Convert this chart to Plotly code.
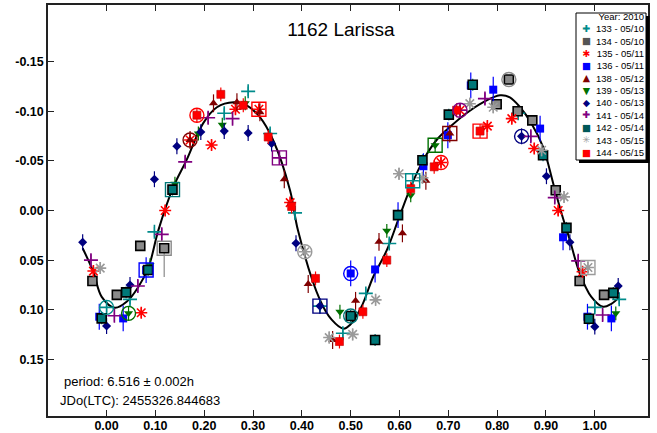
import plotly.graph_objects as go

# ---------------- data ----------------
series_names = ["133 - 05/10", "134 - 05/10", "135 - 05/11", "136 - 05/11", "138 - 05/12",
                "139 - 05/13", "140 - 05/13", "141 - 05/14", "142 - 05/14", "143 - 05/15", "144 - 05/15"]
legend_title = "Year: 2010"

phase_133 = [0.000, 0.048, 0.098, 0.241, 0.290, 0.335, 0.386, 0.437, 0.484, 0.531, 0.579, 0.627, 0.843, 1.000, 1.050]
mag_133 = [0.0976, 0.0895, 0.0215, -0.098, -0.120, -0.0775, 0.0024, 0.0963, 0.1237, 0.0835, 0.0333, -0.030, -0.098, 0.0976, 0.0895]

phase_134 = [-0.029, 0.021, 0.069, 0.118, 0.799, 0.824, 0.842, 0.872, 0.920, 0.969, 1.019]
mag_134 = [0.071, 0.085, 0.0356, 0.038, -0.107, -0.132, -0.100, -0.0908, -0.0204, 0.071, 0.085]
err_134_plus = [0.004, 0.004, 0.004, 0.029, 0.004, 0.004, 0.004, 0.004, 0.004, 0.004, 0.004]

phase_135 = [-0.027, 0.071, 0.120, 0.171, 0.215, 0.264, 0.312, 0.376, 0.685, 0.724, 0.780, 0.830, 0.876, 0.925, 0.975]
mag_135 = [0.061, 0.103, 0.000, -0.071, -0.066, -0.102, -0.102, -0.008, -0.0483, -0.101, -0.085, -0.0925, -0.0624, 0.000, 0.0617]

phase_136 = [-0.015, 0.034, 0.081, 0.500, 0.550, 0.597, 0.649, 0.699, 0.746, 0.792, 0.888, 0.935, 0.985, 1.034]
mag_136 = [0.107, 0.1087, 0.060, 0.0634, 0.0594, 0.0047, -0.0446, -0.0758, -0.126, -0.1217, -0.0825, 0.027, 0.107, 0.1087]

phase_138 = [0.171, 0.219, 0.267, 0.314, 0.364, 0.413, 0.463, 0.510, 0.558, 0.606, 0.654, 0.703]
mag_138 = [-0.071, -0.108, -0.109, -0.099, -0.0315, 0.074, 0.1305, 0.091, 0.0316, 0.023, -0.030, -0.0775]

phase_139 = [0.045, 0.089, 0.140, 0.188, 0.237, 0.284, 0.478, 0.574, 0.623, 0.673, 1.043]
mag_139 = [0.1036, 0.055, -0.027, -0.0775, -0.0865, -0.108, 0.102, 0.0205, -0.0154, -0.0657, 0.1036]

phase_140 = [-0.049, 0.000, 0.048, 0.098, 0.144, 0.193, 0.241, 0.290, 0.338, 0.388, 0.437, 0.850, 0.901, 0.949, 1.000, 1.048]
mag_140 = [0.032, 0.1164, 0.075, -0.0315, -0.0647, -0.079, -0.080, -0.078, -0.0675, 0.033, 0.0963, -0.0747, -0.0345, 0.032, 0.117, 0.076]

phase_141 = [-0.032, 0.016, 0.064, 0.113, 0.161, 0.208, 0.258, 0.354, 0.724, 0.775, 0.869, 0.918, 0.966, 1.016]
mag_141 = [0.050, 0.106, 0.076, 0.024, -0.049, -0.0935, -0.0925, -0.053, -0.101, -0.1127, -0.0747, -0.013, 0.0507, 0.1053]

phase_142 = [-0.010, 0.040, 0.085, 0.135, 0.500, 0.550, 0.597, 0.647, 0.701, 0.750, 0.894, 0.942, 0.988, 1.038]
mag_142 = [0.1087, 0.0825, 0.060, -0.021, 0.1063, 0.1305, 0.0047, -0.0506, -0.0966, -0.1267, -0.0556, 0.0175, 0.109, 0.083]

phase_143 = [-0.013, 0.406, 0.456, 0.504, 0.551, 0.599, 0.647, 0.744, 0.792, 0.891, 0.937, 0.986]
mag_143 = [0.058, 0.0416, 0.128, 0.1248, 0.090, -0.037, -0.033, -0.1076, -0.104, -0.0607, -0.0137, 0.0574]

phase_144 = [0.185, 0.234, 0.280, 0.331, 0.379, 0.428, 0.477, 0.525, 0.574, 0.623, 0.671, 0.717, 0.765]
mag_144 = [-0.096, -0.117, -0.106, -0.074, -0.004, 0.0684, 0.132, 0.102, 0.050, -0.022, -0.044, -0.101, -0.080]

# per-series typical error (mag)
series_err = [0.005, 0.004, 0.005, 0.013, 0.009, 0.007, 0.008, 0.006, 0.006, 0.006, 0.007]

# fitted lightcurve
fit_phase = [-0.049, -0.027, -0.010, 0.017, 0.041, 0.065, 0.086, 0.106, 0.137, 0.164, 0.198, 0.226,
             0.260, 0.287, 0.314, 0.341, 0.376, 0.392, 0.437, 0.461, 0.485, 0.499, 0.522, 0.546,
             0.574, 0.597, 0.625, 0.649, 0.676, 0.703, 0.737, 0.771, 0.806, 0.826, 0.847, 0.870,
             0.894, 0.915, 0.932, 0.949, 0.969, 0.993, 1.017, 1.034, 1.051]
fit_mag = [0.038, 0.062, 0.087, 0.098, 0.092, 0.077, 0.057, 0.020, -0.024, -0.051, -0.088, -0.104,
           -0.109, -0.106, -0.094, -0.071, -0.020, 0.020, 0.090, 0.110, 0.119, 0.115, 0.097, 0.067,
           0.040, 0.010, -0.026, -0.051, -0.071, -0.084, -0.098, -0.109, -0.116, -0.114, -0.104, -0.088,
           -0.064, -0.027, 0.003, 0.030, 0.063, 0.087, 0.097, 0.094, 0.087]

# highlighted (session reference) points
hl_phase = [0.000, 0.045, 0.081, 0.118, 0.135, 0.171, 0.185, 0.312, 0.354, 0.406, 0.437,
            0.500, 0.500, 0.627, 0.673, 0.685, 0.703, 0.724, 0.765, 0.824, 0.850, 0.986]
hl_mag = [0.0976, 0.1036, 0.060, 0.038, -0.021, -0.071, -0.096, -0.102, -0.053, 0.0416, 0.0963,
          0.0634, 0.1063, -0.030, -0.0657, -0.0483, -0.0775, -0.101, -0.080, -0.132, -0.0747, 0.0574]
hl_series = [0, 5, 3, 1, 8, 4, 10, 2, 7, 9, 6, 3, 8, 0, 5, 2, 4, 7, 10, 1, 6, 9]
hl_shape = ["circle", "circle", "square", "square", "square", "circle", "circle", "square", "square",
            "circle", "square", "circle", "circle", "square", "square", "circle", "square", "circle",
            "square", "circle", "circle", "square"]

x_tickvals = [0.0, 0.1, 0.2, 0.3, 0.4, 0.5, 0.6, 0.7, 0.8, 0.9, 1.0]
x_ticktext = ["0.00", "0.10", "0.20", "0.30", "0.40", "0.50", "0.60", "0.70", "0.80", "0.90", "1.00"]
y_tickvals = [-0.15, -0.10, -0.05, 0.0, 0.05, 0.10, 0.15]
y_ticktext = ["-0.15", "-0.10", "-0.05", "0.00", "0.05", "0.10", "0.15"]

title_text = "1162 Larissa"
period_text = "period: 6.516 \u00b1 0.002h"
jd_text = "JDo(LTC): 2455326.844683"

# ---------------- styles ----------------
TEAL = "#008b8b"
styles = [
    dict(symbol="cross-thin-open", size=10, color=TEAL, line=dict(color=TEAL, width=1.6)),
    dict(symbol="square", size=9, color="#8a8a8a", line=dict(color="black", width=1.6)),
    dict(symbol="asterisk-open", size=10, color="#ff0000", line=dict(color="#ff0000", width=1.6)),
    dict(symbol="square", size=8, color="#0000ff", line=dict(width=0)),
    dict(symbol="triangle-up", size=8, color="#800000", line=dict(width=0)),
    dict(symbol="triangle-down", size=8, color="#007000", line=dict(width=0)),
    dict(symbol="diamond", size=7, color="#000080", line=dict(width=0)),
    dict(symbol="cross-thin-open", size=10, color="#800080", line=dict(color="#800080", width=1.6)),
    dict(symbol="square", size=9, color="#007878", line=dict(color="black", width=1.6)),
    dict(symbol="asterisk-open", size=10, color="#9a9a9a", line=dict(color="#9a9a9a", width=1.6)),
    dict(symbol="square", size=8, color="#ff0000", line=dict(color="#c00000", width=0.6)),
]
legend_glyph = ["\u271a", "\u25a0", "\u2731", "\u25a0", "\u25b2", "\u25bc", "\u25c6", "\u271a", "\u25a0", "\u2733", "\u25a0"]
legend_glyph_color = [TEAL, "#555555", "#ff0000", "#0000ff", "#800000", "#007000", "#000080",
                      "#800080", "#005858", "#9a9a9a", "#ff0000"]

phases = [phase_133, phase_134, phase_135, phase_136, phase_138, phase_139, phase_140,
          phase_141, phase_142, phase_143, phase_144]
mags = [mag_133, mag_134, mag_135, mag_136, mag_138, mag_139, mag_140,
        mag_141, mag_142, mag_143, mag_144]

fig = go.Figure()

# fitted curve
fig.add_trace(go.Scatter(x=fit_phase, y=fit_mag, mode="lines",
                         line=dict(color="black", width=2, shape="spline", smoothing=1.0),
                         showlegend=False, hoverinfo="skip"))

for i, name in enumerate(series_names):
    st = styles[i]
    if i == 1:
        err = dict(type="data", array=err_134_plus, arrayminus=[series_err[i]] * len(err_134_plus),
                   symmetric=False, color="#8a8a8a", thickness=1.2, width=0)
    else:
        err = dict(type="constant", value=series_err[i], color=st["color"], thickness=1.2, width=0)
    fig.add_trace(go.Scatter(x=phases[i], y=mags[i], mode="markers", name=name,
                             marker=st, error_y=err, showlegend=False))

# highlight rings
fig.add_trace(go.Scatter(
    x=hl_phase, y=hl_mag, mode="markers", showlegend=False, hoverinfo="skip",
    marker=dict(symbol=[s + "-open" for s in hl_shape], size=14,
                color=[styles[k]["color"] for k in hl_series], line=dict(width=1.4))))

# ---------------- layout ----------------
W, H = 657, 433
L, R, T, B = 48, 9, 5, 17
PW, PH = W - L - R, H - T - B


def px(xp):
    return (xp - L) / PW


def py(yp):
    return 1 - (yp - T) / PH


axis_common = dict(showgrid=False, zeroline=False, showline=True, linecolor="#222222", linewidth=1.5,
                   mirror="ticks", ticks="inside", ticklen=6, tickcolor="#222222", tickwidth=1)
tfont = dict(family="Arial, Liberation Sans", size=12.5, color="black", weight="bold")

fig.update_xaxes(range=[-0.12, 1.109], tickvals=x_tickvals, ticktext=x_ticktext,
                 tickfont=tfont, ticklabelstandoff=-3, **axis_common)
fig.update_yaxes(range=[0.207, -0.207], tickvals=y_tickvals, ticktext=y_ticktext,
                 tickfont=tfont, **axis_common)

shapes = [
    # legend shadow
    dict(type="rect", xref="paper", yref="paper", x0=px(579), x1=px(649.5), y0=py(163), y1=py(16),
         fillcolor="black", line=dict(width=0), layer="above"),
    # legend box
    dict(type="rect", xref="paper", yref="paper", x0=px(576), x1=px(646), y0=py(160), y1=py(13),
         fillcolor="white", line=dict(color="black", width=1), layer="above"),
]

annotations = [
    dict(text=period_text, xref="paper", yref="paper", x=px(62), y=py(381), xanchor="left",
         yanchor="middle", showarrow=False, font=dict(family="Arial, Liberation Sans", size=13, color="black")),
    dict(text=jd_text, xref="paper", yref="paper", x=px(58), y=py(400), xanchor="left",
         yanchor="middle", showarrow=False, font=dict(family="Arial, Liberation Sans", size=13, color="black")),
    dict(text="<br>".join([legend_title] + series_names), xref="paper", yref="paper",
         x=px(645), y=py(159), xanchor="right", yanchor="bottom", align="right", showarrow=False,
         font=dict(family="Arial, Liberation Sans", size=9.5, color="black"), borderpad=0),
    dict(text="<br>".join('<span style="color:%s">%s</span>' % (c, g)
                          for g, c in zip(legend_glyph, legend_glyph_color)),
         xref="paper", yref="paper", x=px(586), y=py(159), xanchor="center", yanchor="bottom",
         align="center", showarrow=False, font=dict(family="DejaVu Sans", size=9.5), borderpad=0),
]

fig.update_layout(
    width=W, height=H, margin=dict(l=L, r=R, t=T, b=B, autoexpand=False),
    paper_bgcolor="white", plot_bgcolor="white",
    title=dict(text=title_text, x=341 / W, y=1 - 29 / H, xanchor="center", yanchor="middle",
               xref="container", yref="container",
               font=dict(family="Arial, Liberation Sans", size=19, color="black")),
    shapes=shapes, annotations=annotations, showlegend=False,
)

fig.write_html("out.html")
